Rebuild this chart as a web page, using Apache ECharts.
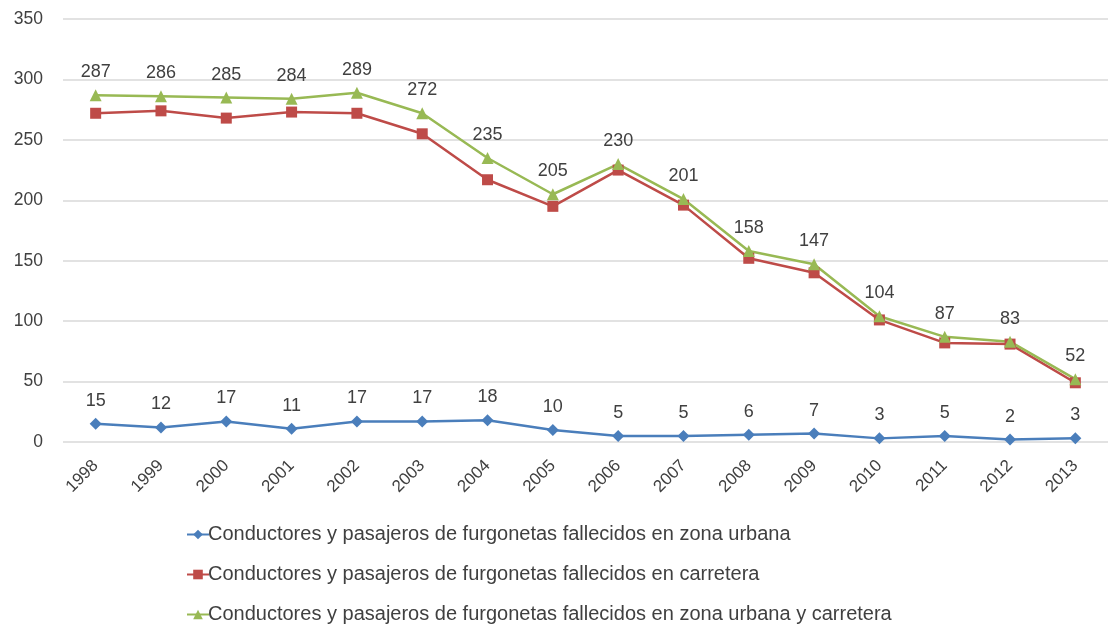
<!DOCTYPE html>
<html>
<head>
<meta charset="utf-8">
<script src="https://cdn.jsdelivr.net/npm/echarts@6/dist/echarts.min.js"></script>
<style>
    html, body { margin: 0; padding: 0; background: #fff; }
    #chart { width: 1108px; height: 624px; }
</style>
</head>
<body>
<div id="chart"></div>
<script>
// años y fallecidos
const years = ['1998', '1999', '2000', '2001', '2002', '2003', '2004', '2005',
    '2006', '2007', '2008', '2009', '2010', '2011', '2012', '2013'];
const urbana = [15, 12, 17, 11, 17, 17, 18, 10, 5, 5, 6, 7, 3, 5, 2, 3];
const carretera = [272, 274, 268, 273, 272, 255, 217, 195, 225, 196, 152, 140, 101, 82, 81, 49];
const total = [287, 286, 285, 284, 289, 272, 235, 205, 230, 201, 158, 147, 104, 87, 83, 52];

const names = [
    'Conductores y pasajeros de furgonetas fallecidos en zona urbana',
    'Conductores y pasajeros de furgonetas fallecidos en carretera',
    'Conductores y pasajeros de furgonetas fallecidos en zona urbana y carretera'
];

const font = 'Liberation Sans';
const textColor = '#404040';

const chart = echarts.init(document.getElementById('chart'));

function serie(name, data, color, symbol, size, showLabel) {
    return {
        name: name,
        type: 'line',
        data: data,
        symbol: symbol,
        symbolSize: size,
        lineStyle: { width: 2.5, color: color },
        itemStyle: { color: color },
        label: {
            show: showLabel,
            position: 'top',
            distance: 8,
            fontFamily: font,
            fontSize: 18,
            color: textColor
        }
    };
}

chart.setOption({
    backgroundColor: '#fff',
    animation: false,
    grid: {
        left: 63,
        right: 0,
        top: 19,
        bottom: 182
    },
    legend: {
        orient: 'vertical',
        left: 181,
        top: 519,
        height: 200,
        itemWidth: 22,
        itemHeight: 12,
        itemGap: 19,
        textStyle: {
            fontFamily: font,
            fontSize: 20,
            lineHeight: 21,
            color: textColor,
            padding: [0, 0, 0, -6]
        },
        data: names
    },
    xAxis: {
        type: 'category',
        data: years,
        boundaryGap: true,
        axisLine: { show: false },
        axisTick: { show: false },
        axisLabel: {
            rotate: 45,
            margin: 21,
            fontFamily: font,
            fontSize: 17,
            color: textColor
        }
    },
    yAxis: {
        type: 'value',
        min: 0,
        max: 350,
        interval: 50,
        axisLine: { show: false },
        axisTick: { show: false },
        axisLabel: {
            margin: 20,
            fontFamily: font,
            fontSize: 17.5,
            color: textColor
        },
        splitLine: { lineStyle: { color: '#d9d9d9', width: 1.5 } }
    },
    series: [
        serie(names[0], urbana, '#4a7ebb', 'diamond', 12, true),
        serie(names[1], carretera, '#be4b48', 'rect', 11, false),
        serie(names[2], total, '#98b954', 'triangle', 12, true)
    ]
});
</script>
</body>
</html>
